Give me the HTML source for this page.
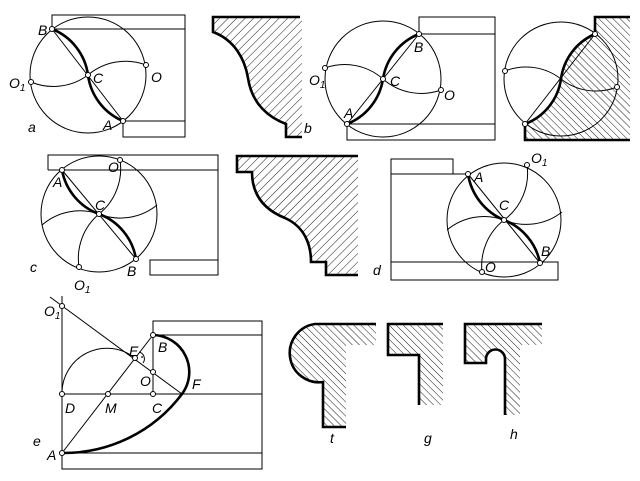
<!DOCTYPE html>
<html><head><meta charset="utf-8"><style>
html,body{margin:0;padding:0;background:#fff}
svg{display:block}
text{font-family:"Liberation Sans",sans-serif;font-style:italic;font-size:14px;fill:#000}
.t{fill:none;stroke:#000;stroke-width:1}
.k{fill:none;stroke:#000;stroke-width:2.6}
.d{fill:#fff;stroke:#000;stroke-width:1}
</style></head><body>
<svg width="640" height="481" viewBox="0 0 640 481" xmlns="http://www.w3.org/2000/svg">
<defs>
<pattern id="h1" width="6" height="6" patternUnits="userSpaceOnUse" patternTransform="rotate(45)"><line x1="0" y1="0" x2="0" y2="6" stroke="#000" stroke-width="0.9"/></pattern>
<pattern id="h2" width="5" height="5" patternUnits="userSpaceOnUse" patternTransform="rotate(-45)"><line x1="0" y1="0" x2="0" y2="5" stroke="#000" stroke-width="0.9"/></pattern>
</defs>

<!-- Panel a -->
<path class="t" d="M52,29 V15 H185 V137 H123 V121 H185 M52,29 H185"/>
<circle class="t" cx="88" cy="75" r="58"/>
<line class="t" x1="52" y1="29" x2="123" y2="121"/>
<path class="k" d="M52,29 A58,58 0 0 1 88,75 A58,58 0 0 0 123,121"/>
<path class="t" d="M31,82 A58,58 0 0 0 88,75 A58,58 0 0 1 146,65"/>
<circle class="d" cx="52" cy="29" r="2.5"/><circle class="d" cx="31" cy="82" r="2.5"/><circle class="d" cx="88" cy="75" r="2.5"/><circle class="d" cx="146" cy="65" r="2.5"/><circle class="d" cx="123" cy="121" r="2.5"/>
<text x="38" y="35">B</text><text x="93" y="83">C</text><text x="151" y="82">O</text><text x="9" y="88">O<tspan font-size="10" dy="3">1</tspan></text><text x="103" y="130">A</text><text x="28" y="132">a</text>

<!-- Panel b -->
<path d="M213,17 H302 V137 H286 V124 C270,118 252,105 248,78 C245,60 235,40 213,32 Z" fill="url(#h1)"/>
<path class="k" d="M300,17 H213 V32 C235,40 245,60 248,78 C252,105 270,118 286,124 V137 H302"/>
<text x="304" y="133">b</text>

<!-- Panel 2 -->
<path class="t" d="M419,34 V17 H495 V140 H347 V124 H495 M419,34 H495"/>
<circle class="t" cx="383" cy="79" r="58"/>
<line class="t" x1="347" y1="124" x2="419" y2="34"/>
<path class="k" d="M347,124 A58,58 0 0 0 383,79 A58,58 0 0 1 419,34"/>
<path class="t" d="M325,68 A58,58 0 0 1 383,79 A58,58 0 0 0 441,90"/>
<circle class="d" cx="419" cy="34" r="2.5"/><circle class="d" cx="325" cy="68" r="2.5"/><circle class="d" cx="383" cy="79" r="2.5"/><circle class="d" cx="441" cy="90" r="2.5"/><circle class="d" cx="347" cy="124" r="2.5"/>
<text x="414" y="52">B</text><text x="390" y="86">C</text><text x="444" y="100">O</text><text x="309" y="85">O<tspan font-size="10" dy="3">1</tspan></text><text x="344" y="118">A</text>

<!-- Panel 4 -->
<path d="M595,17 H630 V140 H525 V124 A57,57 0 0 0 561,79 A57,57 0 0 1 595,34 Z" fill="url(#h2)"/>
<circle class="t" cx="561" cy="79" r="57"/>
<line class="t" x1="525" y1="124" x2="595" y2="34"/>
<path class="t" d="M505,71 A57,57 0 0 1 561,79 A57,57 0 0 0 617,87"/>
<path class="k" d="M630,17 H595 V34 A57,57 0 0 0 561,79 A57,57 0 0 1 525,124 V140 H630"/>
<circle class="d" cx="595" cy="34" r="2.5"/><circle class="d" cx="505" cy="71" r="2.5"/><circle class="d" cx="617" cy="87" r="2.5"/><circle class="d" cx="525" cy="124" r="2.5"/>

<!-- Panel c -->
<path class="t" d="M48,170 V155 H218 V275 H150 V260 H218 M48,170 H218"/>
<circle class="t" cx="99" cy="214" r="58"/>
<line class="t" x1="62" y1="170" x2="136" y2="259"/>
<path class="k" d="M62,170 A58,58 0 0 0 99,214 A58,58 0 0 1 136,259"/>
<path class="t" d="M120,160 A58,58 0 0 1 99,214 A58,58 0 0 0 79,267 M42,225 A58,58 0 0 1 99,214 A58,58 0 0 0 157,205"/>
<circle class="d" cx="62" cy="170" r="2.5"/><circle class="d" cx="120" cy="160" r="2.5"/><circle class="d" cx="99" cy="214" r="2.5"/><circle class="d" cx="79" cy="267" r="2.5"/><circle class="d" cx="136" cy="259" r="2.5"/>
<text x="53" y="187">A</text><text x="108" y="172">O</text><text x="95" y="210">C</text><text x="127" y="276">B</text><text x="74" y="290">O<tspan font-size="10" dy="3">1</tspan></text><text x="30" y="272">c</text>

<!-- Panel c profile -->
<path d="M237,156 H358 V275 H326 V262 H311 C311,245 305,227 285,218 C270,212 252,200 252,172 H237 Z" fill="url(#h1)"/>
<path class="k" d="M358,156 H237 V172 H252 C252,200 270,212 285,218 C305,227 311,245 311,262 H326 V275 H358"/>

<!-- Panel d -->
<path class="t" d="M391,174 V159 H453 V174 M391,174 H468 M391,174 V280 H558 V262 H391"/>
<circle class="t" cx="504" cy="220" r="57"/>
<line class="t" x1="468" y1="174" x2="540" y2="263"/>
<path class="k" d="M468,174 A60,60 0 0 0 504,220 A58,58 0 0 1 540,263"/>
<path class="t" d="M527,165 A58,58 0 0 1 504,220 A58,58 0 0 0 482,272 M447,230 A58,58 0 0 1 504,220 A58,58 0 0 0 562,212"/>
<circle class="d" cx="468" cy="174" r="2.5"/><circle class="d" cx="527" cy="165" r="2.5"/><circle class="d" cx="504" cy="220" r="2.5"/><circle class="d" cx="482" cy="272" r="2.5"/><circle class="d" cx="540" cy="263" r="2.5"/>
<text x="474" y="182">A</text><text x="531" y="163">O<tspan font-size="10" dy="3">1</tspan></text><text x="499" y="210">C</text><text x="541" y="256">B</text><text x="485" y="272">O</text><text x="373" y="275">d</text>

<!-- Panel e -->
<path class="t" d="M62,296 V469 H262 V321 H153 V394 M62,453 H262 M153,335 H262 M62,394 H262"/>
<line class="t" x1="50" y1="297" x2="182" y2="394"/>
<line class="t" x1="62" y1="453" x2="153" y2="335"/>
<path class="t" d="M62,394 A45,45 0 0 1 135,358"/>
<path class="t" d="M139,352 A7,7 0 0 1 143,363"/><circle cx="142" cy="357" r="0.9" fill="#000"/>
<path class="k" d="M153,335 A37,37 0 0 1 182,394 A148,148 0 0 1 62,453"/>
<circle class="d" cx="62" cy="306" r="2.5"/><circle class="d" cx="135" cy="358" r="2.5"/><circle class="d" cx="153" cy="335" r="2.5"/><circle class="d" cx="153" cy="372" r="2.5"/><circle class="d" cx="62" cy="394" r="2.5"/><circle class="d" cx="108" cy="394" r="2.5"/><circle class="d" cx="153" cy="394" r="2.5"/><circle class="d" cx="62" cy="453" r="2.5"/>
<text x="44" y="316">O<tspan font-size="10" dy="3">1</tspan></text><text x="129" y="356">E</text><text x="158" y="352">B</text><text x="140" y="386">O</text><text x="192" y="389">F</text><text x="65" y="413">D</text><text x="105" y="413">M</text><text x="152" y="413">C</text><text x="47" y="460">A</text><text x="33" y="446">e</text>

<!-- f/t -->
<path d="M376,324 H315 A29,29 0 0 0 323,382 V427 H346 V345 H376 Z" fill="url(#h2)"/>
<path class="k" d="M376,324 H315 A29,29 0 0 0 323,382 V427 H346"/>
<text x="330" y="443">t</text>
<!-- g -->
<path d="M388,324 H443 V405 H419 V355 H388 Z" fill="url(#h2)"/>
<path class="k" d="M443,324 H388 V355 H419 V405"/>
<text x="424" y="443">g</text>
<!-- h -->
<path d="M465,324 H542 V345 H520 V415 H505 V360 A9.5,9.5 0 0 0 486,360 V363 H465 Z" fill="url(#h2)"/>
<path class="k" d="M542,324 H465 V363 H486 V359 A9.5,9.5 0 0 1 505,359 V415"/>
<text x="510" y="439">h</text>
</svg>
</body></html>
